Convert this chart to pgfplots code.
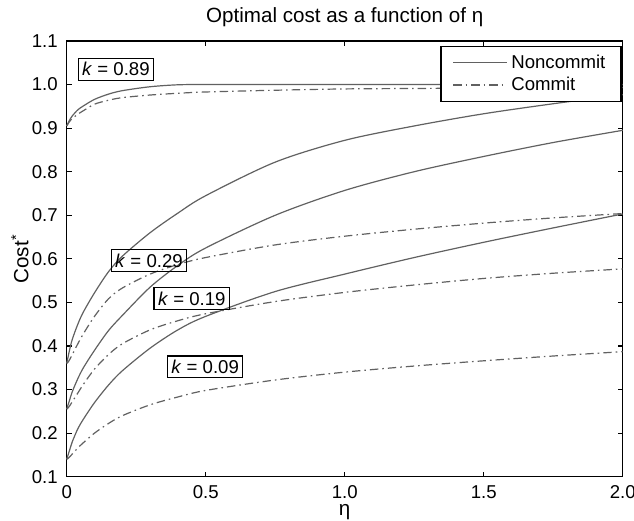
\documentclass[border=0pt]{standalone}
\usepackage{pgfplots}
\pgfplotsset{compat=1.18}
\usepackage{pgfplotstable}
\usepackage{fontspec}
\setmainfont{Liberation Sans}

\pgfplotstableread{
eta   nc89   c89    nc29   c29    nc19   c19    nc09   c09
0     0.905  0.905  0.360  0.360  0.255  0.255  0.140  0.140
0.005 0.912  0.910  0.375  0.363  0.265  0.258  0.150  0.142
0.01  0.918  0.915  0.390  0.368  0.275  0.262  0.160  0.145
0.02  0.928  0.922  0.415  0.380  0.295  0.272  0.180  0.152
0.04  0.942  0.932  0.450  0.405  0.325  0.292  0.210  0.166
0.06  0.951  0.940  0.478  0.428  0.350  0.312  0.232  0.178
0.1   0.966  0.955  0.522  0.468  0.390  0.347  0.270  0.200
0.15  0.978  0.964  0.570  0.508  0.435  0.380  0.310  0.222
0.2   0.986  0.970  0.606  0.533  0.470  0.405  0.343  0.240
0.3   0.995  0.976  0.660  0.565  0.535  0.437  0.395  0.265
0.4   0.9995 0.980  0.705  0.587  0.585  0.458  0.437  0.283
0.5   1.000  0.983  0.745  0.603  0.625  0.474  0.468  0.298
0.75  1.000  0.987  0.822  0.632  0.700  0.502  0.525  0.322
1.0   1.000  0.990  0.872  0.652  0.757  0.523  0.565  0.340
1.25  1.000  0.991  0.905  0.668  0.800  0.540  0.603  0.354
1.5   1.000  0.992  0.933  0.682  0.835  0.555  0.638  0.366
1.75  1.000  0.993  0.956  0.694  0.867  0.567  0.671  0.377
2.0   1.000  0.993  0.977  0.704  0.895  0.577  0.703  0.387
}\datatable

\definecolor{curve}{gray}{0.38}

\begin{document}
\fontsize{9.3}{11}\selectfont
\begin{tikzpicture}
\useasboundingbox (-33.35pt,-22.15pt) rectangle (283.65pt,238.35pt);
\begin{axis}[
  scale only axis,
  width=278pt, height=217.85pt,
  xmin=0, xmax=2, ymin=0.1, ymax=1.1,
  clip=false,
  xtick={0,0.5,1,1.5,2},
  xticklabels={0,0.5,1.0,1.5,2.0},
  ytick={0.1,0.2,0.3,0.4,0.5,0.6,0.7,0.8,0.9,1.0,1.1},
  yticklabels={0.1,0.2,0.3,0.4,0.5,0.6,0.7,0.8,0.9,1.0,1.1},
  /pgf/number format/assume math mode=true,
  tick align=inside, tick pos=both,
  major tick length=2.5pt,
  axis line style={line width=0.65pt},
  every tick/.style={black, line width=0.6pt},
  tick label style={font=\fontsize{9.3}{11}\selectfont},
  xticklabel style={yshift=-1pt},
  yticklabel style={xshift=-1.2pt},
  legend style={at={(1,1)}, anchor=north east, xshift=-0.5pt, yshift=-2.5pt,
    draw=black, line width=0.6pt, font=\fontsize{9.3}{10}\selectfont,
    row sep=-1pt, inner xsep=5.85pt, inner ysep=2pt},
  legend cell align=left,
  legend image code/.code={\draw[#1] (0pt,0pt) -- (26.7pt,0pt);},
  nc/.style={curve, line width=0.6pt, solid, smooth, tension=0.5},
  cm/.style={curve, line width=0.6pt, smooth, tension=0.5, dash pattern=on 4.2pt off 2pt on 0.8pt off 2pt},
]
\addplot[nc] table[x=eta, y=nc89] {\datatable};
\addlegendentry{Noncommit\hspace{7.5pt}}
\addplot[cm] table[x=eta, y=c89] {\datatable};
\addlegendentry{Commit}
\addplot[nc, forget plot] table[x=eta, y=nc29] {\datatable};
\addplot[cm, forget plot] table[x=eta, y=c29] {\datatable};
\addplot[nc, forget plot] table[x=eta, y=nc19] {\datatable};
\addplot[cm, forget plot] table[x=eta, y=c19] {\datatable};
\addplot[nc, forget plot] table[x=eta, y=nc09] {\datatable};
\addplot[cm, forget plot] table[x=eta, y=c09] {\datatable};

\node[anchor=base, font=\fontsize{10.3}{12}\selectfont] at ([yshift=9.5pt]rel axis cs:0.5,1) {Optimal cost as a function of η};
\node[anchor=base, font=\fontsize{10.3}{12}\selectfont] at ([yshift=-19.4pt]rel axis cs:0.5,0) {η};
\node[rotate=90, anchor=base, font=\fontsize{10.3}{12}\selectfont] at ([xshift=-19.2pt]rel axis cs:0,0.5) {Cost\textsuperscript{*}};

\node[draw=black, line width=0.6pt, inner sep=2pt] at (axis cs:0.177,1.035) {\textit{k} = 0.89};
\node[draw=black, line width=0.6pt, inner sep=2pt] at (axis cs:0.296,0.596) {\textit{k} = 0.29};
\node[draw=black, line width=0.6pt, inner sep=2pt] at (axis cs:0.45,0.509) {\textit{k} = 0.19};
\node[draw=black, line width=0.6pt, inner sep=2pt] at (axis cs:0.498,0.352) {\textit{k} = 0.09};
\end{axis}
\end{tikzpicture}
\end{document}
